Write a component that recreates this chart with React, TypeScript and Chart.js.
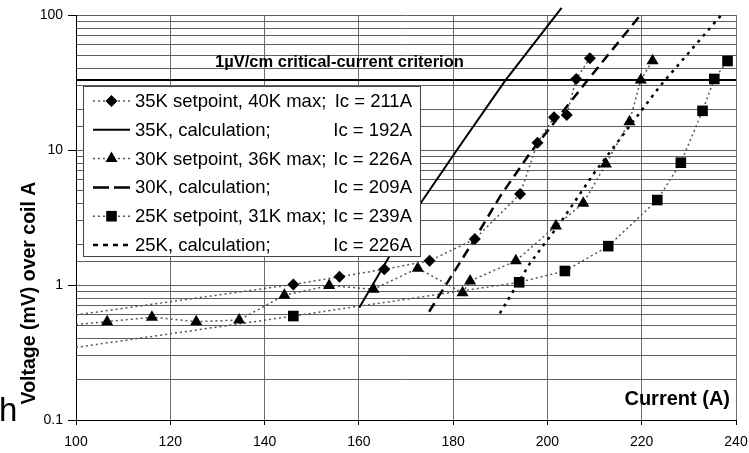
import React, { useEffect, useRef } from 'react';
import { Chart, registerables } from 'chart.js';

Chart.register(...registerables);

const FONT = "'Liberation Sans', Arial, Helvetica, sans-serif";

// ---------- data ----------
const xTicks = [100, 120, 140, 160, 180, 200, 220, 240];
const yMajorTicks = [0.1, 1, 10, 100];

// 35K setpoint, 40K max (diamonds); first entry is where the dotted line enters the plot
const sp35I = [100, 146.1, 155.9, 165.4, 175.0, 184.6, 194.2, 197.9, 201.4, 204.1, 206.1, 209.0];
const sp35V = [0.60, 1.01, 1.15, 1.31, 1.51, 2.19, 4.72, 11.3, 17.5, 18.2, 33.6, 47.8];

// 35K calculation (solid)
const calc35I = [160.1, 173.1, 180.8, 191.0, 203.0];
const calc35V = [0.68, 4.03, 10, 32.5, 113];

// 30K setpoint, 36K max (triangles)
const sp30I = [100, 106.6, 116.1, 125.5, 134.6, 144.2, 153.7, 163.1, 172.5, 182.0, 183.6, 193.3, 201.8, 207.6, 212.4, 217.4, 219.8, 222.3];
const sp30V = [0.51, 0.535, 0.577, 0.535, 0.55, 0.84, 0.99, 0.93, 1.33, 0.877, 1.07, 1.51, 2.74, 4.03, 7.87, 16.2, 33, 45.9];

// 30K calculation (long dashes)
const calc30I = [174.9, 180.0, 184.6, 189.9, 196.3, 208.0, 219.9];
const calc30V = [0.634, 1.22, 2.2, 4.5, 9.46, 31.2, 101.7];

// 25K setpoint, 31K max (squares)
const sp25I = [100, 146.1, 194.0, 203.7, 212.9, 223.3, 228.3, 232.9, 235.4, 238.2];
const sp25V = [0.345, 0.589, 1.047, 1.27, 1.94, 4.26, 8.05, 19.5, 33.6, 45.6];

// 25K calculation (short dashes)
const calc25I = [189.9, 196.3, 202.7, 210.1, 223.9, 237.3];
const calc25V = [0.617, 1.45, 2.88, 6.9, 29.8, 104];

// critical-current criterion
const criterionI = [100, 240];
const criterionV = [33, 33];

const legendNames = [
  '35K setpoint, 40K max;',
  '35K, calculation;',
  '30K setpoint, 36K max;',
  '30K, calculation;',
  '25K setpoint, 31K max;',
  '25K, calculation;',
];
const legendIc = ['Ic = 211A', 'Ic = 192A', 'Ic = 226A', 'Ic = 209A', 'Ic = 239A', 'Ic = 226A'];

const criterionLabel = '1µV/cm critical-current criterion';
const xTitle = 'Current (A)';
const yTitle = 'Voltage (mV) over coil A';
const strayText = 'h';

// ---------- helpers ----------
const pts = (xs: number[], ys: number[]) => xs.map((x, i) => ({ x, y: ys[i] }));
const isMajor = (v: number) => yMajorTicks.some((t) => Math.abs(v - t) / t < 1e-6);

const legendDash = [[2, 3], [], [2, 3], [16, 5], [2, 3], [5, 5]];

function drawMarker(ctx: CanvasRenderingContext2D, style: string, x: number, y: number, r: number) {
  ctx.beginPath();
  if (style === 'rectRot') {
    ctx.moveTo(x, y - r);
    ctx.lineTo(x + r, y);
    ctx.lineTo(x, y + r);
    ctx.lineTo(x - r, y);
  } else if (style === 'triangle') {
    const a = (2 * Math.PI) / 3;
    for (let k = 0; k < 3; k++) {
      const px = x + Math.sin(k * a) * r;
      const py = y - Math.cos(k * a) * r;
      if (k === 0) ctx.moveTo(px, py);
      else ctx.lineTo(px, py);
    }
  } else if (style === 'rect') {
    const s = r * Math.SQRT1_2;
    ctx.rect(x - s, y - s, 2 * s, 2 * s);
  }
  ctx.closePath();
  ctx.fill();
}

const overlayPlugin = {
  id: 'overlay',
  afterDatasetsDraw(chart: any) {
    const ctx: CanvasRenderingContext2D = chart.ctx;
    const area = chart.chartArea;
    ctx.save();

    // legend box
    const L = 83, T = 86, R = 421, B = 257;
    ctx.fillStyle = '#ffffff';
    ctx.fillRect(L, T, R - L, B - T);
    ctx.strokeStyle = '#444';
    ctx.lineWidth = 1;
    ctx.setLineDash([]);
    ctx.strokeRect(L + 0.5, T + 0.5, R - L - 1, B - T - 1);

    const rowTop = 101;
    const rowGap = 28.8;
    for (let i = 0; i < legendNames.length; i++) {
      const ds = chart.data.datasets[i];
      const y = rowTop + i * rowGap;
      ctx.save();
      ctx.strokeStyle = ds.borderColor;
      ctx.lineWidth = ds.borderWidth;
      ctx.setLineDash(legendDash[i]);
      ctx.beginPath();
      ctx.moveTo(93, y);
      ctx.lineTo(130, y);
      ctx.stroke();
      ctx.restore();
      if (ds.markerStyle) {
        ctx.fillStyle = '#000';
        drawMarker(ctx, ds.markerStyle, 111.5, y, ds.markerRadius);
      }
      ctx.fillStyle = '#000';
      ctx.font = `18.5px ${FONT}`;
      ctx.textBaseline = 'middle';
      ctx.textAlign = 'left';
      ctx.fillText(legendNames[i], 135, y + 1);
      ctx.textAlign = 'right';
      ctx.fillText(legendIc[i], 412, y + 1);
    }

    // criterion label
    ctx.fillStyle = '#000';
    ctx.font = `bold 16.5px ${FONT}`;
    ctx.textAlign = 'left';
    ctx.textBaseline = 'alphabetic';
    ctx.fillText(criterionLabel, 215, 67);

    // x title inside the plot
    ctx.font = `bold 20px ${FONT}`;
    ctx.textAlign = 'right';
    ctx.fillText(xTitle, area.right - 6, area.bottom - 15);

    // y title
    ctx.save();
    ctx.translate(30, 293);
    ctx.rotate(-Math.PI / 2);
    ctx.font = `bold 19.5px ${FONT}`;
    ctx.textAlign = 'center';
    ctx.textBaseline = 'middle';
    ctx.fillText(yTitle, 0, 0);
    ctx.restore();

    // stray glyph at the left edge
    ctx.font = `33px ${FONT}`;
    ctx.textAlign = 'left';
    ctx.textBaseline = 'alphabetic';
    ctx.fillText(strayText, -1, 421);

    ctx.restore();
  },
};

export default function App() {
  const ref = useRef<HTMLCanvasElement | null>(null);

  useEffect(() => {
    if (!ref.current) return;
    Chart.defaults.font.family = FONT;
    const dotted = { borderColor: '#555', borderWidth: 1.5, borderDash: [2, 3] };
    const chart = new Chart(ref.current, {
      type: 'scatter',
      data: {
        datasets: [
          {
            label: legendNames[0],
            data: pts(sp35I, sp35V),
            showLine: true,
            ...dotted,
            pointStyle: 'rectRot',
            pointRadius: (c: any) => (c.dataIndex === 0 ? 0 : 6),
            pointBackgroundColor: '#000',
            pointBorderColor: '#000',
            pointBorderWidth: 0,
            markerStyle: 'rectRot',
            markerRadius: 6,
          } as any,
          {
            label: legendNames[1],
            data: pts(calc35I, calc35V),
            showLine: true,
            borderColor: '#000',
            borderWidth: 2,
            pointRadius: 0,
            clip: false,
          } as any,
          {
            label: legendNames[2],
            data: pts(sp30I, sp30V),
            showLine: true,
            ...dotted,
            pointStyle: 'triangle',
            pointRadius: (c: any) => (c.dataIndex === 0 ? 0 : 7),
            pointBackgroundColor: '#000',
            pointBorderColor: '#000',
            pointBorderWidth: 0,
            markerStyle: 'triangle',
            markerRadius: 7,
          } as any,
          {
            label: legendNames[3],
            data: pts(calc30I, calc30V),
            showLine: true,
            borderColor: '#000',
            borderWidth: 2.5,
            borderDash: [10, 6],
            pointRadius: 0,
            clip: false,
          } as any,
          {
            label: legendNames[4],
            data: pts(sp25I, sp25V),
            showLine: true,
            ...dotted,
            pointStyle: 'rect',
            pointRadius: (c: any) => (c.dataIndex === 0 ? 0 : 7.5),
            pointBackgroundColor: '#000',
            pointBorderColor: '#000',
            pointBorderWidth: 0,
            markerStyle: 'rect',
            markerRadius: 7.5,
          } as any,
          {
            label: legendNames[5],
            data: pts(calc25I, calc25V),
            showLine: true,
            borderColor: '#000',
            borderWidth: 2.5,
            borderDash: [3, 5],
            pointRadius: 0,
            clip: false,
          } as any,
          {
            label: 'criterion',
            data: pts(criterionI, criterionV),
            showLine: true,
            borderColor: '#000',
            borderWidth: 2,
            pointRadius: 0,
          } as any,
        ],
      },
      options: {
        animation: false,
        responsive: false,
        events: [],
        layout: { padding: { top: 15, right: 13, left: 0, bottom: 0 } },
        plugins: { legend: { display: false }, tooltip: { enabled: false } },
        scales: {
          x: {
            type: 'linear',
            min: 100,
            max: 240,
            afterBuildTicks: (s: any) => {
              s.ticks = xTicks.map((v) => ({ value: v }));
            },
            afterFit: (s: any) => {
              s.height = 33;
              s.paddingLeft = 0;
              s.paddingRight = 0;
            },
            ticks: { color: '#000', font: { size: 14 }, padding: 9, maxRotation: 0 },
            grid: { color: '#6e6e6e', lineWidth: 1, tickColor: '#000', tickLength: 5 },
            border: { color: '#000', width: 1 },
          },
          y: {
            type: 'logarithmic',
            min: 0.1,
            max: 100,
            afterFit: (s: any) => {
              s.width = 76;
            },
            ticks: {
              color: '#000',
              font: { size: 14 },
              padding: 5,
              autoSkip: false,
              callback: (v: any) => {
                const n = Number(v);
                const t = yMajorTicks.find((m) => Math.abs(n - m) / m < 1e-6);
                return t === undefined ? '' : String(t);
              },
            },
            grid: {
              color: '#5e5e5e',
              lineWidth: 1,
              tickLength: 8,
              tickColor: (c: any) => (c.tick && isMajor(c.tick.value) ? '#000' : 'rgba(0,0,0,0)'),
            },
            border: { color: '#000', width: 1 },
          },
        },
      },
      plugins: [overlayPlugin],
    } as any);
    return () => chart.destroy();
  }, []);

  return (
    <div style={{ position: 'fixed', left: 0, top: 0, width: 749, height: 453, background: '#fff' }}>
      <canvas ref={ref} width={749} height={453} style={{ display: 'block' }} />
    </div>
  );
}
